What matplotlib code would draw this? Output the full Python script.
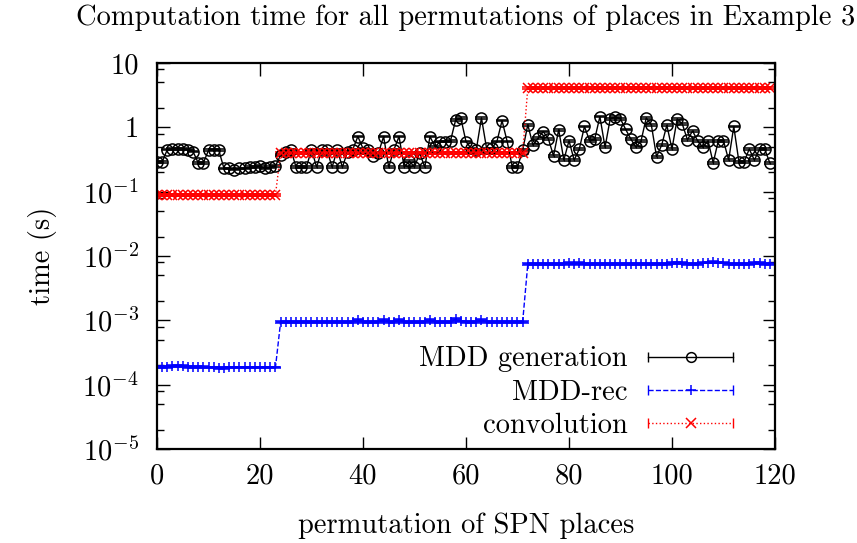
import matplotlib
matplotlib.use('Agg')
import matplotlib.pyplot as plt
from matplotlib.lines import Line2D
from matplotlib.legend_handler import HandlerLine2D, HandlerTuple
from matplotlib.ticker import FixedLocator, NullFormatter
import numpy as np

plt.rcParams['font.family'] = 'serif'
plt.rcParams['font.serif'] = ['cmr10', 'DejaVu Serif']
plt.rcParams['mathtext.fontset'] = 'cm'
plt.rcParams['axes.formatter.use_mathtext'] = True

# Время вычислений (с) для каждой из 120 перестановок мест
perm = list(range(120))

mdd_generation = [
    0.29, 0.29, 0.45, 0.46, 0.46, 0.46, 0.45, 0.42, 0.28, 0.28, 0.44, 0.45,
    0.44, 0.23, 0.23, 0.22, 0.23, 0.23, 0.24, 0.24, 0.25, 0.23, 0.24, 0.25,
    0.37, 0.42, 0.45, 0.24, 0.24, 0.24, 0.45, 0.24, 0.45, 0.45, 0.24, 0.45,
    0.24, 0.42, 0.45, 0.72, 0.47, 0.45, 0.36, 0.40, 0.72, 0.24, 0.45, 0.72,
    0.24, 0.30, 0.24, 0.40, 0.24, 0.72, 0.50, 0.60, 0.60, 0.62, 1.31, 1.38,
    0.60, 0.47, 0.45, 1.40, 0.47, 0.47, 0.60, 1.27, 0.60, 0.24, 0.24, 0.44,
    1.10, 0.53, 0.68, 0.86, 0.66, 0.36, 0.92, 0.31, 0.62, 0.31, 0.46, 1.03,
    0.62, 0.66, 1.47, 0.49, 1.35, 1.45, 1.35, 0.93, 0.66, 0.49, 0.62, 1.40,
    1.08, 0.35, 0.53, 1.08, 0.46, 1.35, 1.13, 0.64, 0.88, 0.61, 0.49, 0.62,
    0.28, 0.62, 0.62, 0.31, 1.03, 0.29, 0.29, 0.46, 0.31, 0.46, 0.46, 0.28,
]

mdd_rec = [
    1.90e-4, 1.90e-4, 1.90e-4, 1.95e-4, 1.95e-4, 1.95e-4, 1.90e-4, 1.90e-4,
    1.90e-4, 1.90e-4, 1.85e-4, 1.85e-4, 1.80e-4, 1.80e-4, 1.85e-4, 1.85e-4,
    1.85e-4, 1.85e-4, 1.85e-4, 1.85e-4, 1.85e-4, 1.85e-4, 1.85e-4, 1.85e-4,
    9.4e-4, 9.4e-4, 9.4e-4, 9.4e-4, 9.4e-4, 9.4e-4, 9.4e-4, 9.4e-4,
    9.4e-4, 9.4e-4, 9.4e-4, 9.4e-4, 9.4e-4, 9.4e-4, 9.4e-4, 1.02e-3,
    9.4e-4, 9.4e-4, 9.4e-4, 9.4e-4, 1.02e-3, 9.4e-4, 9.4e-4, 1.02e-3,
    9.4e-4, 9.4e-4, 9.4e-4, 9.4e-4, 9.4e-4, 1.02e-3, 9.4e-4, 9.4e-4,
    9.4e-4, 9.4e-4, 1.04e-3, 9.6e-4, 9.4e-4, 9.4e-4, 9.4e-4, 1.02e-3,
    9.4e-4, 9.4e-4, 9.4e-4, 9.4e-4, 9.4e-4, 9.4e-4, 9.4e-4, 9.4e-4,
    7.5e-3, 7.5e-3, 7.5e-3, 7.5e-3, 7.5e-3, 7.5e-3, 7.5e-3, 7.5e-3,
    7.8e-3, 7.5e-3, 7.8e-3, 7.5e-3, 7.5e-3, 7.5e-3, 7.5e-3, 7.5e-3,
    7.5e-3, 7.5e-3, 7.5e-3, 7.5e-3, 7.5e-3, 7.5e-3, 7.5e-3, 7.5e-3,
    7.5e-3, 7.5e-3, 7.5e-3, 7.6e-3, 7.8e-3, 7.8e-3, 7.8e-3, 7.5e-3,
    7.5e-3, 7.5e-3, 7.9e-3, 7.9e-3, 8.0e-3, 7.9e-3, 7.9e-3, 7.5e-3,
    7.5e-3, 7.5e-3, 7.5e-3, 7.5e-3, 7.8e-3, 7.8e-3, 7.5e-3, 7.6e-3,
]

convolution = [
    0.089, 0.089, 0.089, 0.089, 0.089, 0.089, 0.089, 0.089, 0.089, 0.089,
    0.089, 0.089, 0.089, 0.089, 0.089, 0.089, 0.089, 0.089, 0.089, 0.089,
    0.089, 0.089, 0.089, 0.089,
    0.40, 0.40, 0.40, 0.40, 0.40, 0.40, 0.40, 0.40, 0.40, 0.40, 0.40, 0.40,
    0.40, 0.40, 0.40, 0.40, 0.40, 0.40, 0.40, 0.40, 0.40, 0.40, 0.40, 0.40,
    0.40, 0.40, 0.40, 0.40, 0.40, 0.40, 0.40, 0.40, 0.40, 0.40, 0.40, 0.40,
    0.40, 0.40, 0.40, 0.40, 0.40, 0.40, 0.40, 0.40, 0.40, 0.40, 0.40, 0.40,
    4.1, 4.1, 4.1, 4.1, 4.1, 4.1, 4.1, 4.1, 4.1, 4.1, 4.1, 4.1,
    4.1, 4.1, 4.1, 4.1, 4.1, 4.1, 4.1, 4.1, 4.1, 4.1, 4.1, 4.1,
    4.1, 4.1, 4.1, 4.1, 4.1, 4.1, 4.1, 4.1, 4.1, 4.1, 4.1, 4.1,
    4.1, 4.1, 4.1, 4.1, 4.1, 4.1, 4.1, 4.1, 4.1, 4.1, 4.1, 4.1,
]

labels = ['MDD generation', 'MDD-rec', 'convolution']
y_ticks = [1e-5, 1e-4, 1e-3, 1e-2, 1e-1, 1, 10]
y_tick_labels = [r'$10^{-5}$', r'$10^{-4}$', r'$10^{-3}$', r'$10^{-2}$',
                 r'$10^{-1}$', '1', '10']
x_ticks = [0, 20, 40, 60, 80, 100, 120]

FS = 20.5

fig = plt.figure(figsize=(8.57, 5.43), dpi=100)
ax = fig.add_axes([0.1832, 0.1731, 0.7211, 0.7109])

# Стили серий: (значения, цвет, маркер, линия)
series = [
    (mdd_generation, 'black', 'o', '-'),
    (mdd_rec, 'blue', '+', '--'),
    (convolution, 'red', 'x', ':'),
]

handles = []
handler_map = {}
for vals, color, marker, ls in series:
    y = np.array(vals)
    ax.errorbar(perm, y, yerr=0.03 * y, color=color, ls=ls, lw=1.0,
                marker=marker, ms=8 if marker == 'o' else 7,
                mfc='none', mec=color, mew=1.1,
                ecolor=color, elinewidth=0.8, capsize=4.5, capthick=1.0)
    # В легенде: линия с маркером и короткие засечки на концах
    main = Line2D([], [], color=color, ls=ls, lw=1.0, marker=marker,
                  ms=7, mfc='none', mew=1.1)
    caps = Line2D([], [], color=color, ls='none', marker='|', ms=7, mew=1.0)
    handler_map[main] = HandlerLine2D(numpoints=1)
    handler_map[caps] = HandlerLine2D(numpoints=2, marker_pad=0)
    handles.append((main, caps))

handler_map[tuple] = HandlerTuple(ndivide=1)

ax.set_yscale('log')
ax.set_xlim(0, 120)
ax.set_ylim(1e-5, 10)
ax.set_xticks(x_ticks)
ax.set_xticklabels([str(t) for t in x_ticks])
ax.set_yticks(y_ticks)
ax.set_yticklabels(y_tick_labels)
minor = [m * 10.0 ** e for e in range(-5, 1) for m in (2, 5, 8)]
ax.yaxis.set_minor_locator(FixedLocator(minor))
ax.yaxis.set_minor_formatter(NullFormatter())
ax.tick_params(which='both', direction='in', top=True, right=True,
               labelsize=FS, width=1.0)
ax.tick_params(which='major', length=9)
ax.tick_params(axis='y', which='major', pad=13)
ax.tick_params(axis='x', which='major', pad=10)
ax.tick_params(which='minor', length=5)
for sp in ax.spines.values():
    sp.set_linewidth(1.6)

ax.set_title('Computation time for all permutations of places in Example 3',
             fontsize=FS, pad=27)
ax.set_xlabel('permutation of SPN places', fontsize=FS, labelpad=17)
ax.set_ylabel('time (s)', fontsize=FS, labelpad=18)

ax.legend(handles, labels, handler_map=handler_map, loc='lower right',
          bbox_to_anchor=(0.974, -0.04), frameon=False, markerfirst=False,
          fontsize=FS, handlelength=3.0, handletextpad=0.7,
          labelspacing=0.24, numpoints=1)

fig.savefig('out.png', dpi=100)
